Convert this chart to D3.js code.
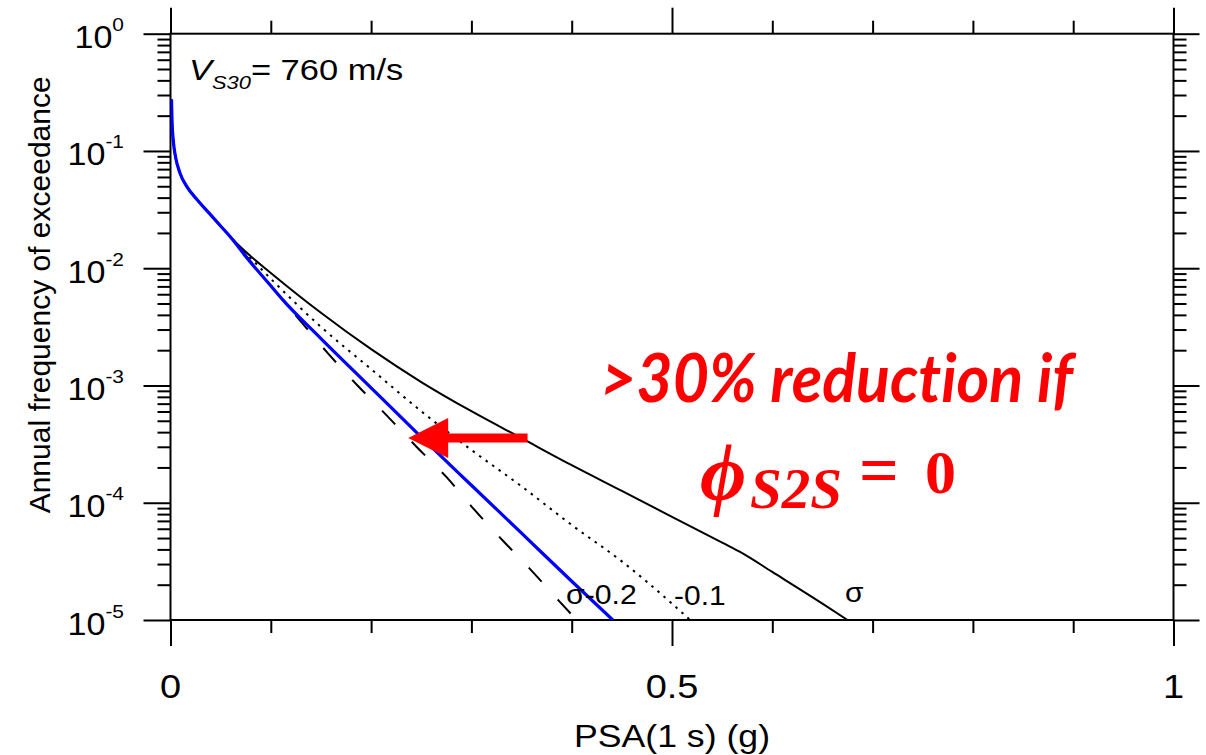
<!DOCTYPE html>
<html>
<head>
<meta charset="utf-8">
<script src="https://cdn.jsdelivr.net/npm/d3@7"></script>
<style>
  html, body { margin: 0; padding: 0; background: #fff; }
  svg { display: block; }
</style>
</head>
<body>
<svg id="chart" width="1206" height="755"></svg>
<script>
// ---------------- data ----------------
const xMajorTicks = [0, 0.5, 1];
const xMajorLabels = ["0", "0.5", "1"];
const xMinorTicks = [0.1, 0.2, 0.3, 0.4, 0.6, 0.7, 0.8, 0.9];
const yMajorTicks = [1e-5, 1e-4, 1e-3, 1e-2, 1e-1, 1];
const yMajorExponents = ["-5", "-4", "-3", "-2", "-1", "0"];

// sigma (total)
const sigmaX = [0.001, 0.0015, 0.003, 0.005, 0.0095, 0.016, 0.027, 0.039, 0.05, 0.06, 0.075, 0.1, 0.15, 0.2, 0.25, 0.3, 0.35, 0.4, 0.45, 0.5, 0.55, 0.57, 0.6, 0.65, 0.675];
const sigmaY = [0.275, 0.182, 0.1175, 0.0891, 0.0646, 0.0501, 0.038, 0.0292, 0.0229, 0.0184, 0.0138, 0.00912, 0.00417, 0.00204, 0.00107, 6.03e-4, 3.55e-4, 2.09e-4, 1.26e-4, 7.59e-5, 4.57e-5, 3.72e-5, 2.57e-5, 1.38e-5, 1.0e-5];

// sigma - 0.1
const sigma01X = [0.001, 0.0015, 0.003, 0.005, 0.0095, 0.016, 0.027, 0.039, 0.05, 0.06, 0.075, 0.1, 0.15, 0.2, 0.25, 0.3, 0.35, 0.4, 0.45, 0.5, 0.518];
const sigma01Y = [0.275, 0.182, 0.1175, 0.0891, 0.0646, 0.0501, 0.038, 0.0292, 0.0229, 0.0184, 0.0135, 0.00813, 0.00316, 0.00138, 6.03e-4, 2.82e-4, 1.38e-4, 6.46e-5, 3.16e-5, 1.38e-5, 1.0e-5];

// sigma - 0.2
const sigma02X = [0.001, 0.0015, 0.003, 0.005, 0.0095, 0.016, 0.027, 0.039, 0.05, 0.06, 0.075, 0.1, 0.129, 0.157, 0.186, 0.215, 0.245, 0.275, 0.302, 0.331, 0.359, 0.3875, 0.405];
const sigma02Y = [0.275, 0.182, 0.1175, 0.0891, 0.0646, 0.0501, 0.038, 0.0292, 0.0229, 0.0184, 0.0129, 0.00708, 0.00359, 0.00188, 0.00101, 5.62e-4, 3.02e-4, 1.66e-4, 8.91e-5, 4.79e-5, 2.69e-5, 1.45e-5, 1.0e-5];

// phi_S2S = 0 (blue)
const phi0X = [0.001, 0.0015, 0.003, 0.005, 0.0095, 0.016, 0.027, 0.039, 0.05, 0.06, 0.075, 0.1, 0.112, 0.15, 0.2, 0.25, 0.3, 0.35, 0.4, 0.441];
const phi0Y = [0.275, 0.182, 0.1175, 0.0891, 0.0646, 0.0501, 0.038, 0.0292, 0.0229, 0.0184, 0.0126, 0.00708, 0.00537, 0.00251, 9.55e-4, 3.63e-4, 1.41e-4, 5.5e-5, 2.14e-5, 1.0e-5];

// arrow annotation (data coords)
const arrowTail = [0.356, 3.57e-4];
const arrowTip = [0.237, 3.57e-4];

// ---------------- layout ----------------
const SANS = "'Liberation Sans', Arial, sans-serif";
const SERIF = "'Liberation Serif', 'DejaVu Serif', serif";
const svg = d3.select("#chart");
const L = 170.5, R = 1173.5, T = 33.7, B = 620;
const x = d3.scaleLinear().domain([0, 1]).range([L, R]);
const y = d3.scaleLog().domain([1e-5, 1]).range([B, T]);

const yMinor = [];
for (let e = -5; e < 0; e++) for (let m = 2; m <= 9; m++) yMinor.push(m * Math.pow(10, e));

function styleAxis(g) {
  g.select(".domain").remove();
  g.selectAll(".tick line").attr("stroke", "#000").attr("stroke-width", 2);
}
// horizontally stretched text helper
function hText(px, py, sx, anchor) {
  return svg.append("g").attr("transform", `translate(${px},${py}) scale(${sx},1)`)
    .append("text").attr("x", 0).attr("y", 0).attr("text-anchor", anchor || "start")
    .style("font-family", SANS).style("fill", "#000");
}

// frame
svg.append("rect").attr("x", L).attr("y", T).attr("width", R - L).attr("height", B - T)
  .attr("fill", "none").attr("stroke", "#000").attr("stroke-width", 2);

// x axes: bottom & top, outward ticks
svg.append("g").attr("transform", `translate(0,${B})`)
  .call(d3.axisBottom(x).tickValues(xMinorTicks).tickSize(13).tickFormat("")).call(styleAxis);
svg.append("g").attr("transform", `translate(0,${B})`)
  .call(d3.axisBottom(x).tickValues(xMajorTicks).tickSize(26).tickFormat("")).call(styleAxis);
svg.append("g").attr("transform", `translate(0,${T})`)
  .call(d3.axisTop(x).tickValues(xMinorTicks).tickSize(13).tickFormat("")).call(styleAxis);
svg.append("g").attr("transform", `translate(0,${T})`)
  .call(d3.axisTop(x).tickValues(xMajorTicks).tickSize(26).tickFormat("")).call(styleAxis);

// y axes: left & right
svg.append("g").attr("transform", `translate(${L},0)`)
  .call(d3.axisLeft(y).tickValues(yMinor).tickSize(13).tickFormat("")).call(styleAxis);
svg.append("g").attr("transform", `translate(${L},0)`)
  .call(d3.axisLeft(y).tickValues(yMajorTicks).tickSize(27).tickFormat("")).call(styleAxis);
svg.append("g").attr("transform", `translate(${R},0)`)
  .call(d3.axisRight(y).tickValues(yMinor).tickSize(13).tickFormat("")).call(styleAxis);
svg.append("g").attr("transform", `translate(${R},0)`)
  .call(d3.axisRight(y).tickValues(yMajorTicks).tickSize(26).tickFormat("")).call(styleAxis);

// x tick labels
xMajorTicks.forEach((d, i) => {
  hText(x(d), B + 78, 1.15, "middle").attr("font-size", 33).text(xMajorLabels[i]);
});

// y tick labels 10^n
yMajorTicks.forEach((d, i) => {
  const t = hText(124, y(d) + 14.5, 1.1, "end").attr("font-size", 31);
  t.append("tspan").text("10");
  t.append("tspan").attr("dy", -17).attr("font-size", 19).text(yMajorExponents[i]);
});

// axis titles
hText((L + R) / 2, 747, 1.15, "middle").attr("font-size", 31).text("PSA(1 s) (g)");
svg.append("text").attr("transform", `translate(50,${(T + B) / 2 - 32}) rotate(-90)`)
  .attr("text-anchor", "middle").attr("font-size", 30)
  .style("font-family", SANS).style("fill", "#000").text("Annual frequency of exceedance");

// curves
svg.append("clipPath").attr("id", "clip").append("rect")
  .attr("x", L).attr("y", T).attr("width", R - L).attr("height", B - T);
const line = d3.line().x(d => x(d[0])).y(d => y(d[1])).curve(d3.curveMonotoneX);
const zip = (a, b) => a.map((v, i) => [v, b[i]]);
const cg = svg.append("g").attr("clip-path", "url(#clip)");
cg.append("path").attr("d", line(zip(sigmaX, sigmaY))).attr("fill", "none")
  .attr("stroke", "#000").attr("stroke-width", 2);
cg.append("path").attr("d", line(zip(sigma01X, sigma01Y))).attr("fill", "none")
  .attr("stroke", "#000").attr("stroke-width", 2).attr("stroke-dasharray", "2.5,5.5");
cg.append("path").attr("d", line(zip(sigma02X, sigma02Y))).attr("fill", "none")
  .attr("stroke", "#000").attr("stroke-width", 2).attr("stroke-dasharray", "19,24");
cg.append("path").attr("d", line(zip(phi0X, phi0Y))).attr("fill", "none")
  .attr("stroke", "#0000ff").attr("stroke-width", 3.2);

// curve labels
hText(566, 604, 1.08).attr("font-size", 28).text("σ-0.2");
hText(674, 605, 1.07).attr("font-size", 28).text("-0.1");
hText(845, 602, 1.07).attr("font-size", 28).text("σ");

// Vs30 label
const vs = hText(189, 80, 1.15).attr("font-size", 30);
vs.append("tspan").attr("font-style", "italic").text("V");
vs.append("tspan").attr("font-style", "italic").attr("font-size", 19).attr("dy", 9).text("S30");
vs.append("tspan").attr("dy", -9).text("= 760 m/s");

// red arrow
const ax0 = x(arrowTail[0]), ax1 = x(arrowTip[0]), ay = y(arrowTip[1]);
svg.append("line").attr("x1", ax0).attr("y1", ay).attr("x2", ax1 + 30).attr("y2", ay)
  .attr("stroke", "#ff0000").attr("stroke-width", 9);
svg.append("path")
  .attr("d", `M${ax1},${ay} L${ax1 + 40},${ay - 20} L${ax1 + 40},${ay + 20} Z`)
  .attr("fill", "#ff0000");

// red annotation
const g1 = svg.append("g");
const t1 = g1.append("text").attr("x", 0).attr("y", 0)
  .style("font-family", "Lato, 'Open Sans', sans-serif").style("font-weight", "bold")
  .style("font-style", "italic").style("font-size", "66px").style("fill", "#ff0000")
  .style("font-variant-ligatures", "none").style("font-feature-settings", "'liga' 0, 'clig' 0")
  .text(">30% reduction if");
const len = t1.node().getComputedTextLength();
g1.attr("transform", `translate(600,402) scale(${473 / len},1)`);

function redSerif(px, py, size, italic, txt) {
  svg.append("text").attr("x", px).attr("y", py)
    .style("font-family", SERIF).style("font-style", italic ? "italic" : "normal")
    .style("font-weight", "bold").style("font-size", size + "px")
    .style("fill", "#ff0000").text(txt);
}
redSerif(700, 500, 80, true, "ϕ");
redSerif(750, 508, 57, true, "S2S");
redSerif(859, 494, 70, false, "=");
redSerif(925, 493, 62, false, "0");
</script>
</body>
</html>
